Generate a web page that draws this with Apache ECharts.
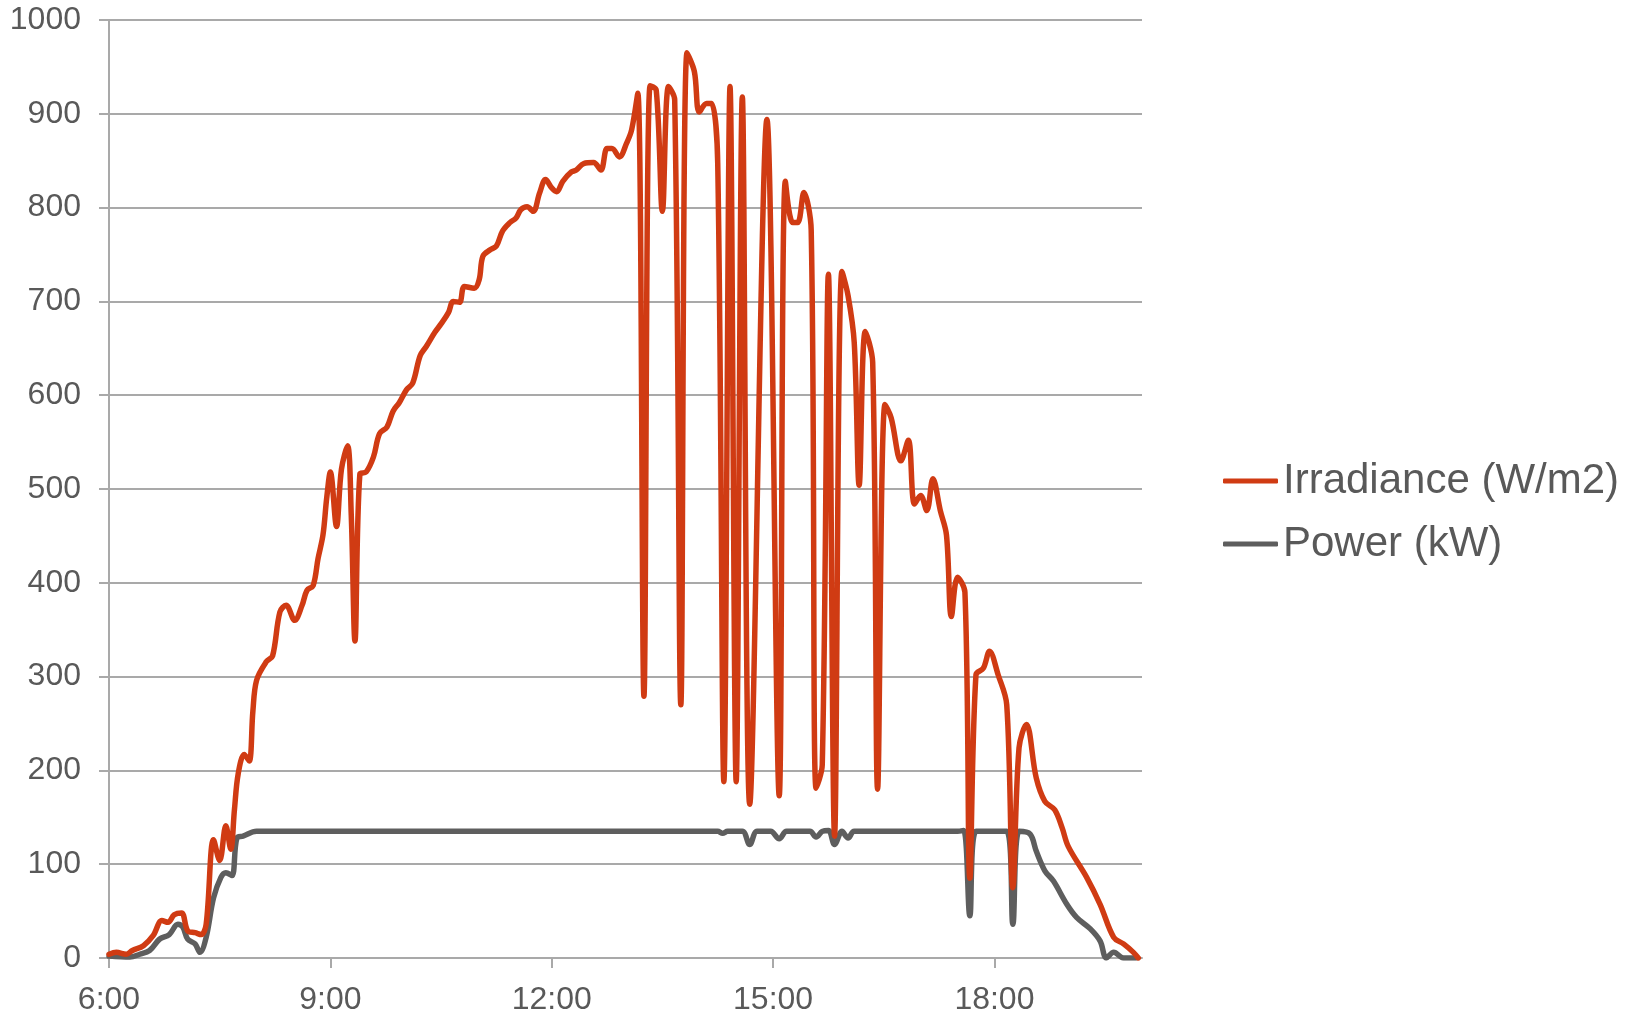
<!DOCTYPE html>
<html>
<head>
<meta charset="utf-8">
<script src="https://cdn.jsdelivr.net/npm/echarts@6/dist/echarts.min.js"></script>
<style>
html,body{margin:0;padding:0;background:#fff;}
#chart{width:1632px;height:1016px;}
</style>
</head>
<body>
<div id="chart"></div>
<script>
// Time in minutes since midnight
const irradianceTimes = [360,366,374,379,388,396,403,408,413,419,
  424,430,435,439,445,450,455,459,462,465,
  470,474,477,480,488,493,499,504,511,517,
  521,526,530,534,537,540,545,549,554,557,
  560,564,569,575,580,586,591,596,602,607,
  613,618,625,630,636,640,645,649,657,661,
  664,670,675,680,686,691,695,700,705,710,
  715,720,724,729,736,740,746,754,760,765,
  769,775,781,785,790,795,800,805,810,815,
  820,825,830,836,840,846,850,855,860,865,
  870,875,881,895,905,910,916,920,925,931,
  935,940,945,950,956,961,966,970,975,981,
  985,991,996,1004,1010,1015,1020,1025,1030,1036,
  1041,1045,1050,1056,1060,1065,1071,1076,1083,1090,
  1095,1100,1106,1114,1121,1129,1135,1140,1155,1166,
  1177,1185,1193,1197];
const irradianceValues = [4,6,4,8,13,24,40,38,46,48,
  29,27,25,36,126,104,141,116,158,196,
  217,210,263,296,316,322,369,376,360,376,
  392,397,426,451,490,518,460,521,546,472,
  338,516,518,534,559,566,583,592,606,613,
  642,652,667,676,688,700,699,716,714,723,
  748,755,759,775,784,789,798,801,796,815,
  830,821,817,828,838,840,847,848,840,863,
  863,854,869,883,922,279,930,925,796,929,
  915,270,965,945,902,911,911,847,188,929,
  188,918,164,894,173,828,784,784,816,776,
  181,206,729,130,732,706,656,504,668,635,
  180,590,576,530,552,484,493,477,511,477,
  451,364,406,390,85,302,309,327,302,270,
  75,224,249,192,167,158,139,119,86,57,
  22,15,6,0];
const powerTimes = [360,377,385,393,401,409,416,420,424,430,
  434,439,445,451,455,460,464,469,480,540,
  660,800,855,859,863,875,881,887,898,905,
  911,930,935,940,945,950,956,961,966,1050,
  1055,1060,1065,1090,1095,1100,1109,1114,1121,1128,
  1139,1147,1158,1166,1171,1177,1185,1195];
const powerValues = [2,1,4,8,20,25,36,33,20,15,
  6,22,64,86,91,88,128,130,135,135,
  135,135,135,133,135,135,121,135,135,127,
  135,135,129,135,136,121,135,128,135,135,
  136,45,135,135,36,135,132,114,93,82,
  57,43,31,18,0,6,0,0];
const xTickValues = [360,540,720,900,1080];

const irrData = irradianceTimes.map((t,i)=>[t, irradianceValues[i]]);
const powData = powerTimes.map((t,i)=>[t, powerValues[i]]);

const FONT = '"Liberation Sans", Arial, sans-serif';
const TXT = '#595959';
const GRID = '#a9a9a9';
const RED = '#D03B13';
const GRAY = '#5e5e5e';

const chart = echarts.init(document.getElementById('chart'));
chart.setOption({
  animation: false,
  backgroundColor: '#ffffff',
  grid: {left: 109, right: 490, top: 20, bottom: 55, containLabel: false},
  legend: {
    orient: 'vertical',
    left: 1218,
    top: 455,
    itemGap: 21,
    itemWidth: 55,
    itemHeight: 5,
    icon: 'roundRect',
    data: ['Irradiance (W/m2)', 'Power (kW)'],
    textStyle: {fontFamily: FONT, fontSize: 42, color: TXT}
  },
  xAxis: {
    type: 'value',
    min: 360,
    max: 1200,
    interval: 180,
    axisLine: {show: true, lineStyle: {color: GRID, width: 2}},
    axisTick: {show: true, inside: false, length: 10, customValues: xTickValues, lineStyle: {color: GRID, width: 2}},
    axisLabel: {
      customValues: xTickValues,
      margin: 26,
      fontFamily: FONT, fontSize: 32, color: TXT,
      formatter: v => Math.floor(v/60) + ':' + String(v%60).padStart(2,'0')
    },
    splitLine: {show: false}
  },
  yAxis: {
    type: 'value',
    min: 0,
    max: 1000,
    interval: 100,
    axisLine: {show: true, lineStyle: {color: GRID, width: 2}},
    axisTick: {show: true, inside: false, length: 10, lineStyle: {color: GRID, width: 2}},
    axisLabel: {margin: 28, fontFamily: FONT, fontSize: 32, color: TXT, formatter: v => String(v)},
    splitLine: {show: true, lineStyle: {color: GRID, width: 2}}
  },
  series: [
    {
      name: 'Power (kW)',
      type: 'line',
      data: powData,
      smooth: 0.35,
      symbol: 'none',
      color: GRAY,
      lineStyle: {color: GRAY, width: 5.5, cap: 'round', join: 'round'},
      z: 2
    },
    {
      name: 'Irradiance (W/m2)',
      type: 'line',
      data: irrData,
      smooth: 0.35,
      symbol: 'none',
      color: RED,
      lineStyle: {color: RED, width: 5.5, cap: 'round', join: 'round'},
      z: 3
    }
  ]
});
</script>
</body>
</html>
